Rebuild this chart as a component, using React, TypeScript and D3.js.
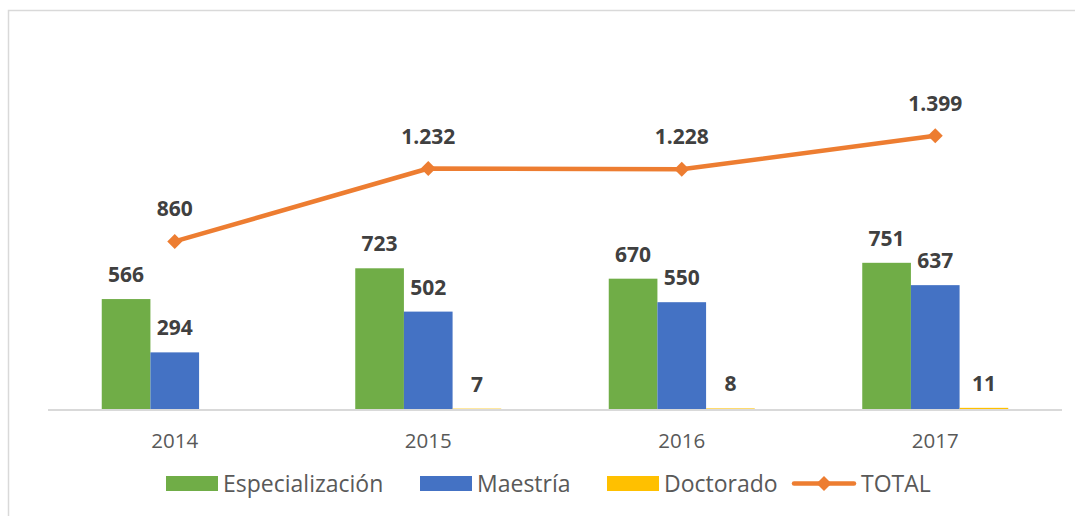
import React from "react";
import * as d3 from "d3";

const years = ["2014", "2015", "2016", "2017"];
const especializacion = [566, 723, 670, 751];
const maestria = [294, 502, 550, 637];
const doctorado = [0, 7, 8, 11];
const total = [860, 1232, 1228, 1399];

const seriesNames = ["Especialización", "Maestría", "Doctorado"];
const seriesColors = ["#70AD47", "#4472C4", "#FFC000"];
const lineColor = "#ED7D31";

const fmt = (v: number) => d3.format(",")(v).replace(/,/g, ".");

export default function App() {
  const W = 1075, H = 516;
  const x0 = d3.scaleBand().domain(years).range([48, 1062]).paddingInner(0).paddingOuter(0);
  const y = d3.scaleLinear().domain([0, 1600]).range([410, 410 - 0.196 * 1600]);
  const groupW = 146;
  const x1 = d3.scaleBand().domain(seriesNames).range([0, groupW]).padding(0);
  const seriesData = [especializacion, maestria, doctorado];
  const cx = (yr: string) => (x0(yr) as number) + x0.bandwidth() / 2;
  const line = d3.line<number>().x((_, i) => cx(years[i])).y((d) => y(d));
  const font = "'Open Sans', 'Noto Sans', sans-serif";
  const labelColor = "#404040";
  const legend = [
    { x: 166, name: "Especialización", color: seriesColors[0], type: "bar" },
    { x: 420, name: "Maestría", color: seriesColors[1], type: "bar" },
    { x: 607, name: "Doctorado", color: seriesColors[2], type: "bar" },
    { x: 792, name: "TOTAL", color: lineColor, type: "line" },
  ];
  const diamond = (px: number, py: number, r: number) =>
    `M${px},${py - r}L${px + r},${py}L${px},${py + r}L${px - r},${py}Z`;

  return (
    <svg width={W} height={H} style={{ position: "absolute", left: 0, top: 0, background: "#fff" }}>
      <rect x={8.5} y={10.5} width={1080} height={520} fill="#fff" stroke="#d9d9d9" strokeWidth={1.5} />
      {seriesData.map((vals, si) =>
        vals.map((v, i) => {
          const bx = cx(years[i]) - groupW / 2 + (x1(seriesNames[si]) as number);
          if (v === 0) return null;
          return (
            <g key={`b${si}-${i}`}>
              <rect x={bx} y={y(v)} width={x1.bandwidth()} height={410 - y(v)} fill={seriesColors[si]} />
              <text x={bx + x1.bandwidth() / 2} y={y(v) - 17} textAnchor="middle" fontFamily={font} fontWeight="bold" fontSize={21} fill={labelColor}>
                {fmt(v)}
              </text>
            </g>
          );
        })
      )}
      <line x1={48} x2={1062} y1={410} y2={410} stroke="#d9d9d9" strokeWidth={2} />
      {years.map((yr) => (
        <text key={yr} x={cx(yr)} y={447.5} textAnchor="middle" fontFamily={font} fontSize={20.5} fill="#595959">
          {yr}
        </text>
      ))}
      <path d={line(total) as string} fill="none" stroke={lineColor} strokeWidth={4.5} strokeLinejoin="round" />
      {total.map((v, i) => (
        <g key={`t${i}`}>
          <path d={diamond(cx(years[i]), y(v), 7.5)} fill={lineColor} />
          <text x={cx(years[i])} y={y(v) - 25} textAnchor="middle" fontFamily={font} fontWeight="bold" fontSize={21} fill={labelColor}>
            {fmt(v)}
          </text>
        </g>
      ))}
      {legend.map((l) => (
        <g key={l.name}>
          {l.type === "bar" ? (
            <rect x={l.x} y={476} width={52} height={15} fill={l.color} />
          ) : (
            <g>
              <line x1={l.x + 2} x2={l.x + 62} y1={483.5} y2={483.5} stroke={l.color} strokeWidth={4.5} strokeLinecap="round" />
              <path d={diamond(l.x + 32, 483.5, 7.5)} fill={l.color} />
            </g>
          )}
          <text x={l.x + (l.type === "bar" ? 57 : 69)} y={491.5} fontFamily={font} fontSize={23} fill="#595959">
            {l.name}
          </text>
        </g>
      ))}
    </svg>
  );
}
